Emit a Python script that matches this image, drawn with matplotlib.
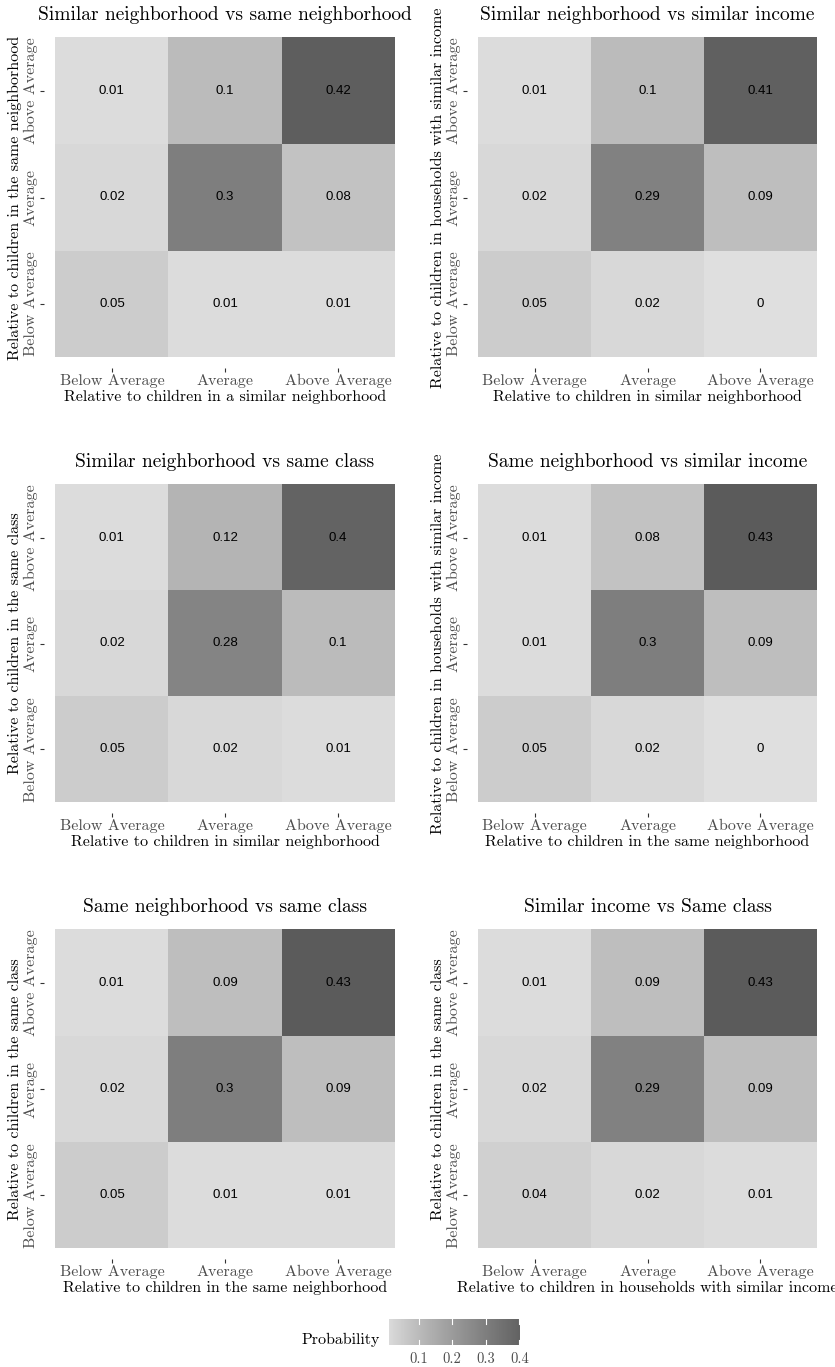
import numpy as np
import matplotlib
matplotlib.use("Agg")
from matplotlib import pyplot as plt
from matplotlib.colors import LinearSegmentedColormap, Normalize

# categories and values (rows bottom -> top: Below, Average, Above)
levels = ["Below Average", "Average", "Above Average"]

p1 = [[0.05, 0.01, 0.01], [0.02, 0.3, 0.08], [0.01, 0.1, 0.42]]
p2 = [[0.05, 0.02, 0.0], [0.02, 0.29, 0.09], [0.01, 0.1, 0.41]]
p3 = [[0.05, 0.02, 0.01], [0.02, 0.28, 0.1], [0.01, 0.12, 0.4]]
p4 = [[0.05, 0.02, 0.0], [0.01, 0.3, 0.09], [0.01, 0.08, 0.43]]
p5 = [[0.05, 0.01, 0.01], [0.02, 0.3, 0.09], [0.01, 0.09, 0.43]]
p6 = [[0.04, 0.02, 0.01], [0.02, 0.29, 0.09], [0.01, 0.09, 0.43]]

titles = ["Similar neighborhood vs same neighborhood",
          "Similar neighborhood vs similar income",
          "Similar neighborhood vs same class",
          "Same neighborhood vs similar income",
          "Same neighborhood vs same class",
          "Similar income vs Same class"]
xlabels = ["Relative to children in a similar neighborhood",
           "Relative to children in similar neighborhood",
           "Relative to children in similar neighborhood",
           "Relative to children in the same neighborhood",
           "Relative to children in the same neighborhood",
           "Relative to children in households with similar income"]
ylabels = ["Relative to children in the same neighborhood",
           "Relative to children in households with similar income",
           "Relative to children in the same class",
           "Relative to children in households with similar income",
           "Relative to children in the same class",
           "Relative to children in the same class"]
cbar_ticks = [0.1, 0.2, 0.3, 0.4]

W, H = 835, 1367
plt.rcParams['font.family'] = ['cmr10', 'DejaVu Serif']
plt.rcParams['axes.formatter.use_mathtext'] = True

# grey gradient, roughly linear in lightness
def lstar_to_grey(L):
    y = ((L + 16) / 116) ** 3 if L > 8 else L / 903.3
    c = 12.92 * y if y <= 0.0031308 else 1.055 * y ** (1 / 2.4) - 0.055
    return (c, c, c)

Ls = 89.0 - 50.0 * np.linspace(0, 1, 11) ** 0.92
cmap = LinearSegmentedColormap.from_list("grey", [lstar_to_grey(l) for l in Ls])
norm = Normalize(0.0, 0.43)

fig = plt.figure(figsize=(W / 100, H / 100), dpi=100)

def px_axes(x0, y0, x1, y1):
    return fig.add_axes([x0 / W, 1 - y1 / H, (x1 - x0) / W, (y1 - y0) / H])

cols = [(44, 406), (467, 828)]
rows = [(27, 368), (474, 813), (919, 1259)]
data = [p1, p2, p3, p4, p5, p6]
grey = "#4d4d4d"

for i, mat in enumerate(data):
    r, c = divmod(i, 2)
    ax = px_axes(cols[c][0], rows[r][0], cols[c][1], rows[r][1])
    mat = np.array(mat)
    ax.imshow(mat, origin="lower", cmap=cmap, norm=norm,
              extent=(-0.5, 2.5, -0.5, 2.5), aspect="auto")
    for yy in range(3):
        for xx in range(3):
            ax.text(xx, yy, "%g" % mat[yy, xx], ha="center", va="center",
                    fontsize=9.5, family=["Liberation Sans", "DejaVu Sans"])
    ax.set_xlim(-0.6, 2.6)
    ax.set_ylim(-0.6, 2.6)
    for s in ax.spines.values():
        s.set_visible(False)
    ax.set_xticks(range(3))
    ax.set_yticks(range(3))
    ax.set_xticklabels(levels, fontsize=11.5, color=grey)
    ax.set_yticklabels(levels, fontsize=11.5, color=grey, rotation=90,
                       va="center")
    ax.tick_params(length=3, width=0.8, color="#333333", pad=1.5)
    ax.set_xlabel(xlabels[i], fontsize=11.5, labelpad=1)
    ax.set_ylabel(ylabels[i], fontsize=11.5, labelpad=1)
    ax.set_title(titles[i], fontsize=14, pad=5)

# colour bar legend
cax = px_axes(389, 1319, 520, 1345)
lo, hi = 0.012, 0.402
grad = np.linspace(lo, hi, 200).reshape(1, -1)
cax.imshow(grad, cmap=cmap, norm=norm, extent=(lo, hi, 0, 1), aspect="auto")
for t in cbar_ticks:
    cax.plot([t, t], [0, 0.2], color="white", lw=0.8)
    cax.plot([t, t], [0.8, 1], color="white", lw=0.8)
cax.set_xlim(lo, hi)
cax.set_ylim(0, 1)
for s in cax.spines.values():
    s.set_visible(False)
cax.set_yticks([])
cax.set_xticks(cbar_ticks)
cax.set_xticklabels(["0.1", "0.2", "0.3", "0.4"], fontsize=10.5, color=grey)
cax.tick_params(length=0, pad=5)
fig.text(380 / W, 1 - 1340 / H, "Probability", ha="right", va="center",
         fontsize=11.5)

fig.savefig("out.png", dpi=100)
